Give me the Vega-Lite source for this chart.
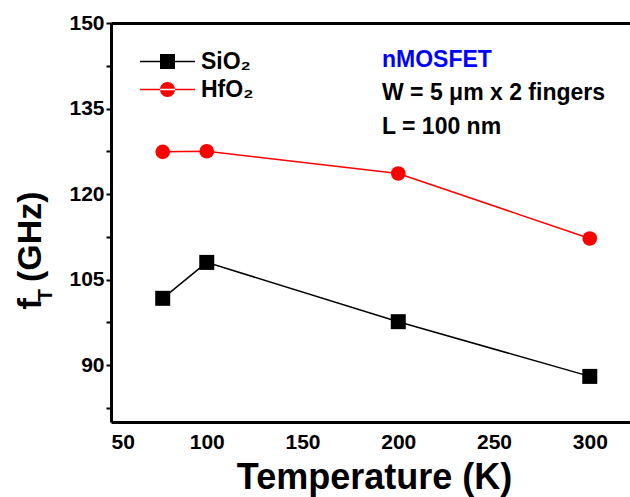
{
  "$schema": "https://vega.github.io/schema/vega-lite/v6.json",
  "autosize": "none",
  "width": 519,
  "height": 399,
  "padding": {"left": 111, "top": 23, "right": 0, "bottom": 75},
  "background": "white",
  "config": {
    "view": {"stroke": null},
    "font": "Liberation Sans",
    "axis": {
      "grid": false,
      "domainColor": "black",
      "domainWidth": 3,
      "tickColor": "black",
      "tickWidth": 2,
      "tickOpacity": 1,
      "labelFont": "Liberation Sans",
      "labelFontWeight": "bold",
      "labelFontSize": 21,
      "labelColor": "black",
      "titleFont": "Liberation Sans",
      "titleFontWeight": "bold",
      "titleColor": "black"
    }
  },
  "data": {
    "values": [
      {"Temperature": 77, "fT": 101.7, "Material": "SiO₂"},
      {"Temperature": 100, "fT": 108.0, "Material": "SiO₂"},
      {"Temperature": 200, "fT": 97.6, "Material": "SiO₂"},
      {"Temperature": 300, "fT": 88.0, "Material": "SiO₂"},
      {"Temperature": 77, "fT": 127.4, "Material": "HfO₂"},
      {"Temperature": 100, "fT": 127.5, "Material": "HfO₂"},
      {"Temperature": 200, "fT": 123.6, "Material": "HfO₂"},
      {"Temperature": 300, "fT": 112.2, "Material": "HfO₂"}
    ]
  },
  "resolve": {"axis": {"x": "independent", "y": "independent"}},
  "layer": [
    {
      "mark": {"type": "line", "strokeWidth": 1.5},
      "encoding": {
        "x": {"field": "Temperature", "type": "quantitative",
              "scale": {"domain": [50, 321], "nice": false, "zero": false},
              "axis": {"orient": "bottom", "values": [50, 75, 100, 125, 150, 175, 200, 225, 250, 275, 300], "ticks": true, "tickSize": 0, "labelPadding": 9,
                       "labelExpr": "datum.value % 50 === 0 ? datum.label : ''",
                       "encode": {"ticks": {"update": {"y2": {"signal": "datum.value % 50 === 0 ? -6 : -4"}, "strokeWidth": {"value": 2}, "stroke": {"value": "black"}}}},
                       "title": "Temperature (K)", "titleFontSize": 36, "titleBaseline": "alphabetic", "titleX": 263, "titleY": 66, "titleAlign": "center"}},
        "y": {"field": "fT", "type": "quantitative",
              "scale": {"domain": [80, 150], "nice": false, "zero": false},
              "axis": {"orient": "left", "values": [82.5, 90, 97.5, 105, 112.5, 120, 127.5, 135, 142.5, 150], "tickSize": 5, "labelPadding": 2,
                       "labelExpr": "datum.value % 15 === 0 ? datum.label : ''",
                       "encode": {"ticks": {"update": {"x2": {"signal": "datum.value % 15 === 0 ? -5 : -4"}}}},
                       "title": "f  \u2009(GHz)", "titleFontSize": 34, "titleAngle": 270, "titleBaseline": "alphabetic", "titleAlign": "center", "titleX": -71, "titleY": 227}},
        "color": {"field": "Material", "type": "nominal",
                  "scale": {"domain": ["SiO₂", "HfO₂"], "range": ["#000000", "#ff0000"]},
                  "legend": {
                    "title": null, "orient": "none", "legendX": 45, "legendY": 27, "padding": 0,
                    "labelFont": "Liberation Sans", "labelFontWeight": "bold", "labelFontSize": 23, "labelColor": "black",
                    "symbolSize": 400, "symbolStrokeWidth": 0, "labelOffset": 22, "rowPadding": 4,
                    "encode": {"symbols": {"update": {
                      "shape": {"signal": "datum.value === 'SiO₂' ? 'M-2.75,-0.08H2.75V0.08H-2.75ZM-0.75,-0.75H0.75V0.75H-0.75Z' : 'M-2.75,-0.08H2.75V0.08H-2.75ZM-0.75,0A0.75,0.75,0,1,0,0.75,0A0.75,0.75,0,1,0,-0.75,0Z'"},
                      "fill": {"signal": "datum.value === 'SiO₂' ? '#000000' : '#ff0000'"},
                      "fillOpacity": {"value": 1},
                      "strokeWidth": {"value": 0},
                      "opacity": {"value": 1}
                    }}}
                  }}
      }
    },
    {
      "transform": [{"filter": "datum.Material === 'SiO₂'"}],
      "mark": {"type": "point", "shape": "square", "filled": true, "opacity": 1, "color": "#000000", "size": 225},
      "encoding": {
        "x": {"field": "Temperature", "type": "quantitative", "axis": null},
        "y": {"field": "fT", "type": "quantitative", "axis": null}
      }
    },
    {
      "transform": [{"filter": "datum.Material === 'HfO₂'"}],
      "mark": {"type": "point", "shape": "circle", "filled": true, "opacity": 1, "color": "#ff0000", "size": 215},
      "encoding": {
        "x": {"field": "Temperature", "type": "quantitative", "axis": null},
        "y": {"field": "fT", "type": "quantitative", "axis": null}
      }
    },
    {
      "mark": {"type": "point", "opacity": 0},
      "encoding": {
        "x": {"field": "Temperature", "type": "quantitative",
              "axis": {"orient": "top", "values": [50, 75, 100, 125, 150, 175, 200, 225, 250, 275, 300], "ticks": true, "tickSize": 0, "labels": false, "title": null,
                       "encode": {"ticks": {"update": {"y2": {"signal": "datum.value % 50 === 0 ? 6 : 4"}, "strokeWidth": {"value": 2}, "stroke": {"value": "black"}}}}}},
        "y": {"field": "fT", "type": "quantitative", "axis": null}
      }
    },
    {
      "data": {"values": [{"label": "nMOSFET"}]},
      "mark": {"type": "text", "align": "left", "baseline": "alphabetic", "font": "Liberation Sans", "fontWeight": "bold", "fontSize": 23, "color": "#0000ff"},
      "encoding": {
        "x": {"datum": 191.5, "type": "quantitative", "axis": null},
        "y": {"datum": 142.3, "type": "quantitative", "axis": null},
        "text": {"field": "label"}
      }
    },
    {
      "data": {"values": [{"label": "W = 5 μm x 2 fingers"}]},
      "mark": {"type": "text", "align": "left", "baseline": "alphabetic", "font": "Liberation Sans", "fontWeight": "bold", "fontSize": 23, "color": "black"},
      "encoding": {
        "x": {"datum": 191.5, "type": "quantitative", "axis": null},
        "y": {"datum": 136.5, "type": "quantitative", "axis": null},
        "text": {"field": "label"}
      }
    },
    {
      "data": {"values": [{"label": "L  = 100 nm"}]},
      "mark": {"type": "text", "align": "left", "baseline": "alphabetic", "font": "Liberation Sans", "fontWeight": "bold", "fontSize": 23, "color": "black"},
      "encoding": {
        "x": {"datum": 191.5, "type": "quantitative", "axis": null},
        "y": {"datum": 130.6, "type": "quantitative", "axis": null},
        "text": {"field": "label"}
      }
    },
    {
      "data": {"values": [{"label": "T"}]},
      "mark": {"type": "text", "align": "center", "baseline": "middle", "angle": 270, "font": "Liberation Sans", "fontWeight": "bold", "fontSize": 21, "color": "black"},
      "encoding": {
        "x": {"datum": 15.8, "type": "quantitative", "axis": null},
        "y": {"datum": 102.2, "type": "quantitative", "axis": null},
        "text": {"field": "label"}
      }
    }
  ]
}
